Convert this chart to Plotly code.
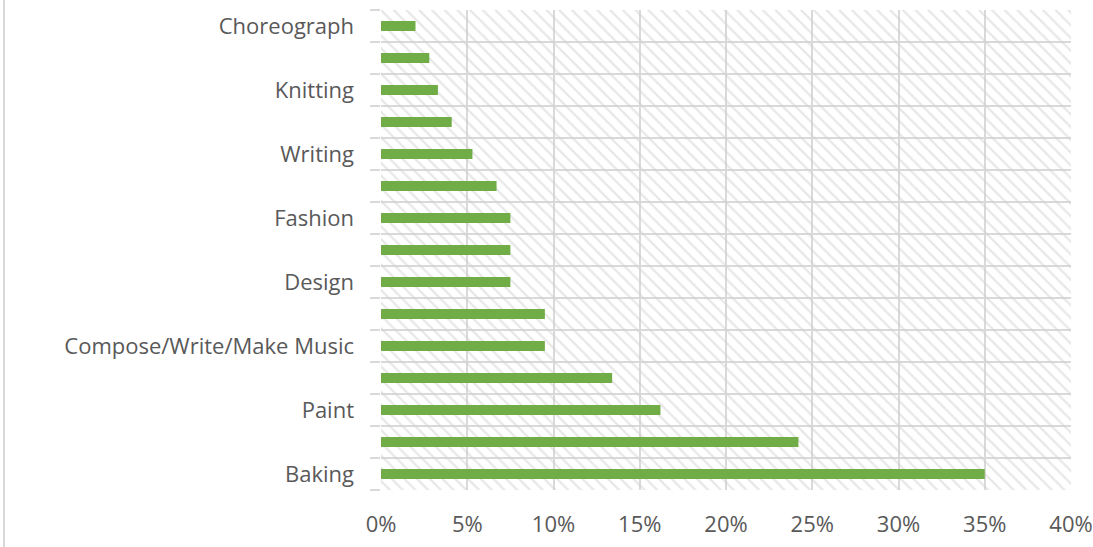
import plotly.graph_objects as go

# Categories from bottom to top ("" = label not shown on the axis)
labels = ["Baking", "", "Paint", "", "Compose/Write/Make Music", "", "Design", "",
          "Fashion", "", "Writing", "", "Knitting", "", "Choreograph"]
values = [35.0, 24.2, 16.2, 13.4, 9.5, 9.5, 7.5, 7.5, 7.5, 6.7, 5.3, 4.1, 3.3, 2.8, 2.0]
x_ticks = [0, 5, 10, 15, 20, 25, 30, 35, 40]
x_max = 40

positions = list(range(len(labels)))
shown = [i for i, l in enumerate(labels) if l]

fig = go.Figure()

# hatched plot background
fig.add_trace(go.Bar(
    orientation="h", y=[(len(labels) - 1) / 2], x=[x_max], base=[0], width=[len(labels)],
    marker=dict(color="rgba(0,0,0,0)", line=dict(width=0),
                pattern=dict(shape="\\", fgcolor="#cfcfcf", size=9, solidity=0.25)),
    hoverinfo="skip", showlegend=False,
))

fig.add_trace(go.Bar(
    orientation="h", y=positions, x=values, width=0.32,
    marker=dict(color="#70ad47", line=dict(width=0)),
    showlegend=False,
))

fig.update_layout(
    width=1093, height=547,
    margin=dict(l=381, r=22, t=10, b=57, autoexpand=False),
    paper_bgcolor="white", plot_bgcolor="white",
    barmode="overlay",
    font=dict(family="Open Sans, Liberation Sans, sans-serif", size=22, color="#595959"),
    xaxis=dict(range=[0, x_max], tickvals=x_ticks, ticktext=[f"{v}%" for v in x_ticks],
               showgrid=True, gridcolor="#d9d9d9", gridwidth=2, zeroline=False,
               showline=False, ticks="", automargin=False, ticklabelstandoff=19,
               tickfont=dict(size=22, color="#595959")),
    yaxis=dict(range=[-0.5, len(labels) - 0.5], tickvals=shown,
               ticktext=[labels[i] for i in shown], showgrid=False, zeroline=False,
               showline=False, ticks="", ticklabelstandoff=26, automargin=False,
               tickfont=dict(size=22, color="#595959"),
               minor=dict(tickmode="linear", tick0=-0.5, dtick=1, showgrid=True,
                          gridcolor="#d9d9d9", gridwidth=2, ticks="outside",
                          ticklen=10, tickcolor="#d9d9d9", tickwidth=2)),
    shapes=[dict(type="line", xref="paper", yref="paper",
                 x0=-377 / 690, x1=-377 / 690, y0=-57 / 480, y1=1 + 10 / 480,
                 line=dict(color="#d9d9d9", width=2))],
)

fig.write_html(
    "out.html",
    config={"displayModeBar": False},
    post_script="document.body.style.margin='0';document.body.style.overflow='hidden';",
)
